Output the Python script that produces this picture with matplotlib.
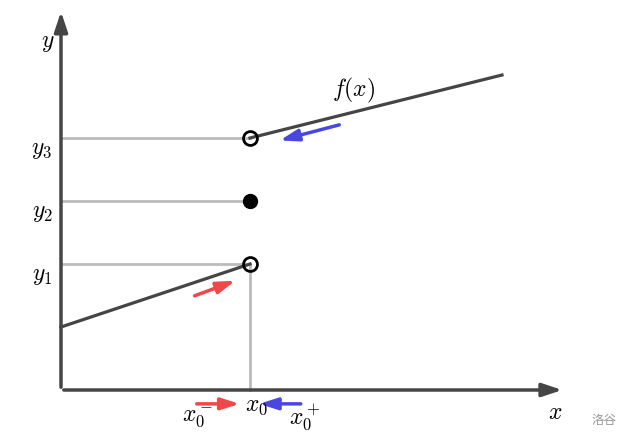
import matplotlib.pyplot as plt

plt.rcParams['mathtext.fontset'] = 'cm'

# 分段函数的两段 (单位: 刻度)
left_x = [0, 3]
left_y = [1, 2]
right_x = [3, 7]
right_y = [4, 5]
x0 = 3
y_levels = [2, 3, 4]
y_names = ['$y_1$', '$y_2$', '$y_3$']
x_end, y_end = 8, 6

fig = plt.figure(figsize=(6.31, 4.40), dpi=100)
ax = fig.add_axes([0, 0, 1, 1])
ax.set_xlim(-61 / 63, 570 / 63)
ax.set_ylim(-50 / 63, 390 / 63)
ax.axis('off')

dark = '#454545'
grey = '#bbbbbb'

# 坐标轴
ax.annotate('', xy=(x_end, 0), xytext=(0, 0),
            arrowprops=dict(arrowstyle='-|>,head_length=1.2,head_width=0.4', color=dark, lw=2.5))
ax.annotate('', xy=(0, y_end + 0.05), xytext=(0, 0),
            arrowprops=dict(arrowstyle='-|>,head_length=1.2,head_width=0.4', color=dark, lw=2.5))

# 辅助线
for y in y_levels:
    ax.plot([0, x0], [y, y], color=grey, lw=2, zorder=1)
ax.plot([x0, x0], [0, y_levels[0]], color=grey, lw=2, zorder=1)

# 函数
ax.plot(left_x, left_y, color=dark, lw=2.3, zorder=2)
ax.plot(right_x, right_y, color=dark, lw=2.3, zorder=2)

ax.plot(x0, y_levels[0], 'o', ms=10, mfc='none', mec='black', mew=2, zorder=3)
ax.plot(x0, y_levels[2], 'o', ms=10, mfc='none', mec='black', mew=2, zorder=3)
ax.plot(x0, y_levels[1], 'o', ms=10, color='black', zorder=3)

# 箭头
red = '#f04848'
blue = '#4848e0'
arr = dict(arrowstyle='-|>,head_length=1.1,head_width=0.35', lw=2.5)
ax.annotate('', xy=(2.81, 1.75), xytext=(2.08, 1.48), arrowprops=dict(color=red, **arr))
ax.annotate('', xy=(3.43, 3.95), xytext=(4.46, 4.22), arrowprops=dict(color=blue, **arr))
ax.annotate('', xy=(2.88, -0.22), xytext=(2.11, -0.22), arrowprops=dict(color=red, **arr))
ax.annotate('', xy=(3.10, -0.22), xytext=(3.85, -0.22), arrowprops=dict(color=blue, **arr))

# 文字
fs = 17
ax.text(-0.21, 5.52, '$y$', fontsize=fs, ha='center', va='center')
for y, name in zip(y_levels, y_names):
    ax.text(-0.30, y - 0.17, name, fontsize=fs, ha='center', va='center')
ax.text(7.84, -0.35, '$x$', fontsize=fs, ha='center', va='center')
ax.text(3.11, -0.24, '$x_0$', fontsize=fs, ha='center', va='center')
ax.text(2.17, -0.44, '$x_0^-$', fontsize=fs, ha='center', va='center')
ax.text(3.87, -0.44, '$x_0^+$', fontsize=fs, ha='center', va='center')
ax.text(4.65, 4.76, '$f(x)$', fontsize=fs, ha='center', va='center')
ax.text(8.62, -0.48, '洛谷', fontsize=9, color='#999999', ha='center', va='center',
        family=['Noto Sans CJK SC', 'DejaVu Sans'])

fig.savefig('out.png', dpi=100)
